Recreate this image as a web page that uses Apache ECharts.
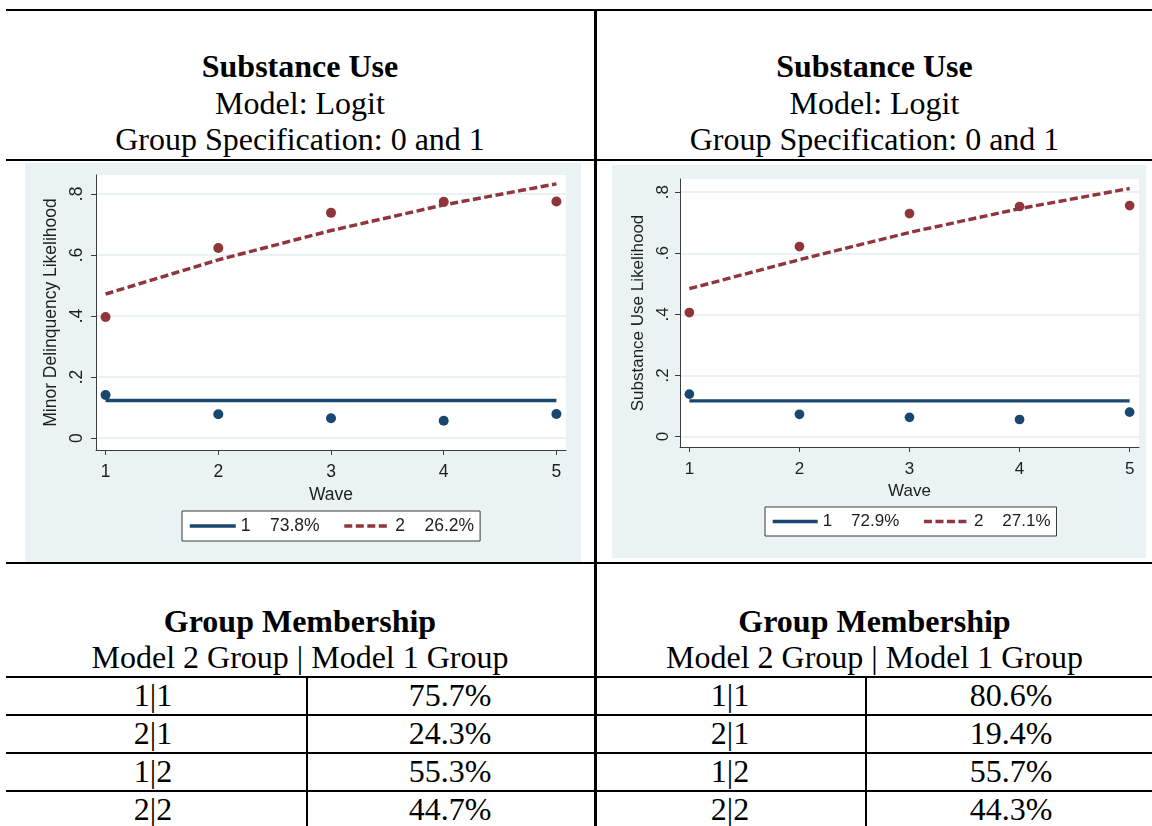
<!DOCTYPE html>
<html>
<head>
<meta charset="utf-8">
<script src="https://cdn.jsdelivr.net/npm/echarts@6/dist/echarts.min.js"></script>
<style>
    html, body { margin: 0; padding: 0; background: #fff; }
    #page { position: relative; width: 1152px; height: 826px; overflow: hidden; font-family: "Liberation Serif", "Times New Roman", serif; color: #000; }
    .hl { position: absolute; height: 2px; background: #000; }
    .vl { position: absolute; width: 2px; background: #000; }
    .txt { position: absolute; text-align: center; font-size: 32px; line-height: 36px; white-space: nowrap; }
    .b { font-weight: bold; }
    .graph { position: absolute; }
</style>
</head>
<body>
<div id="page">
    <div class="hl" style="left:6px;top:9px;width:1146px"></div>
    <div class="hl" style="left:6px;top:159px;width:1146px"></div>
    <div class="hl" style="left:6px;top:562px;width:1146px"></div>
    <div class="vl" style="left:594px;top:9px;width:3px;height:817px"></div>

    <div class="txt b" style="left:6px;top:48px;width:588px">Substance Use</div>
    <div class="txt" style="left:6px;top:85px;width:588px">Model: Logit</div>
    <div class="txt" style="left:6px;top:121px;width:588px">Group Specification: 0 and 1</div>
    <div class="txt b" style="left:597px;top:48px;width:555px">Substance Use</div>
    <div class="txt" style="left:597px;top:85px;width:555px">Model: Logit</div>
    <div class="txt" style="left:597px;top:121px;width:555px">Group Specification: 0 and 1</div>

    <div id="graphL" class="graph" style="left:25px;top:163px;width:556px;height:399px"></div>
    <div id="graphR" class="graph" style="left:612px;top:165px;width:534px;height:393px"></div>

    <div class="txt b" style="left:6px;top:603px;width:588px">Group Membership</div>
    <div class="txt" style="left:6px;top:639px;width:588px">Model 2 Group | Model 1 Group</div>
    <div class="txt b" style="left:597px;top:603px;width:555px">Group Membership</div>
    <div class="txt" style="left:597px;top:639px;width:555px">Model 2 Group | Model 1 Group</div>

    <div class="vl" style="left:306px;top:676px;height:150px"></div>
    <div class="vl" style="left:865px;top:676px;height:150px"></div>
    <div id="rows"></div>
</div>

<script>
var waves = [1, 2, 3, 4, 5];
var yTicks = [0, 0.2, 0.4, 0.6, 0.8];
var groupNames = ['1', '2'];

// left graph
var leftYTitle = 'Minor Delinquency Likelihood';
var leftObs1 = [0.141, 0.078, 0.065, 0.057, 0.079];
var leftObs2 = [0.397, 0.623, 0.738, 0.774, 0.775];
var leftFit1 = [0.123, 0.123, 0.123, 0.123, 0.123];
var leftFit2 = [0.472, 0.584, 0.680, 0.764, 0.833];
var leftShares = ['73.8%', '26.2%'];

// right graph
var rightYTitle = 'Substance Use Likelihood';
var rightObs1 = [0.139, 0.073, 0.063, 0.056, 0.080];
var rightObs2 = [0.406, 0.622, 0.730, 0.753, 0.756];
var rightFit1 = [0.117, 0.117, 0.117, 0.117, 0.117];
var rightFit2 = [0.484, 0.579, 0.668, 0.746, 0.812];
var rightShares = ['72.9%', '27.1%'];

// group membership tables
var pairLabels = ['1|1', '2|1', '1|2', '2|2'];
var leftMembership = ['75.7%', '24.3%', '55.3%', '44.7%'];
var rightMembership = ['80.6%', '19.4%', '55.7%', '44.3%'];

var navy = '#1a476f';
var maroon = '#90353b';

function zip(vals) {
    return waves.map(function(w, i) {
        return [w, vals[i]];
    });
}

function drawGraph(id, d, lay) {
    var chart = echarts.init(document.getElementById(id));
    var txt = { fontFamily: 'Liberation Sans', fontSize: lay.font, color: '#1e1e1e' };
    var axisColor = '#3c3c3c';
    var names = groupNames.map(function(g, i) {
        return g + '    ' + d.shares[i];
    });

    var option = {
        animation: false,
        backgroundColor: '#eaf2f3',
        textStyle: { fontFamily: 'Liberation Sans' },
        grid: {
            left: lay.grid[0], top: lay.grid[1], width: lay.grid[2], height: lay.grid[3],
            show: true, backgroundColor: '#fff', borderWidth: 0
        },
        xAxis: {
            type: 'value', min: 0.915, max: 5.085,
            name: 'Wave', nameLocation: 'middle', nameGap: lay.xNameGap, nameTextStyle: txt,
            axisLine: { show: true, onZero: false, lineStyle: { color: axisColor, width: 1 } },
            axisTick: { show: true, length: 5, customValues: waves, lineStyle: { color: axisColor } },
            axisLabel: Object.assign({ customValues: waves, margin: lay.xLabelMargin }, txt),
            splitLine: { show: false }
        },
        yAxis: {
            type: 'value', min: lay.yMin, max: lay.yMax,
            name: d.yTitle, nameLocation: 'middle', nameGap: lay.yNameGap, nameTextStyle: txt,
            axisLine: { show: true, onZero: false, lineStyle: { color: axisColor, width: 1 } },
            axisTick: { show: true, length: 5, customValues: yTicks, lineStyle: { color: axisColor } },
            axisLabel: Object.assign({
                customValues: yTicks, rotate: 90, margin: lay.yLabelMargin,
                formatter: function(v) {
                    return v === 0 ? '0' : ('' + v).replace(/^0\./, '.');
                }
            }, txt),
            splitLine: { show: true, lineStyle: { color: '#e3ecef', width: 1.5 } }
        },
        legend: {
            data: [
                { name: names[0], lineStyle: { type: 'solid', width: lay.lw } },
                { name: names[1], lineStyle: { type: [8, 3.5], width: lay.lw } }
            ],
            left: lay.legend[0], top: lay.legend[1],
            padding: [6, 6, 6, 6], itemGap: 23, itemWidth: lay.iw, itemHeight: 20,
            borderColor: '#3a3a3a', borderWidth: 1, backgroundColor: '#fff',
            itemStyle: { opacity: 0 },
            textStyle: txt,
            selectedMode: false
        },
        series: [{
            type: 'scatter', data: zip(d.obs1), symbolSize: lay.dot,
            itemStyle: { color: navy, opacity: 1 }
        }, {
            type: 'scatter', data: zip(d.obs2), symbolSize: lay.dot,
            itemStyle: { color: maroon, opacity: 1 }
        }, {
            type: 'line', name: names[0], data: zip(d.fit1), symbol: 'none',
            itemStyle: { color: navy }, lineStyle: { color: navy, width: lay.lw }
        }, {
            type: 'line', name: names[1], data: zip(d.fit2), symbol: 'none',
            itemStyle: { color: maroon }, lineStyle: { color: maroon, width: lay.lw, type: [8, 3.5] }
        }]
    };
    chart.setOption(option);
}

drawGraph('graphL', {
    yTitle: leftYTitle, obs1: leftObs1, obs2: leftObs2, fit1: leftFit1, fit2: leftFit2, shares: leftShares
}, {
    grid: [71, 12, 470, 275], yMin: -0.039, yMax: 0.862, font: 17.5,
    xNameGap: 34, xLabelMargin: 13, yNameGap: 36, yLabelMargin: 10,
    legend: [157, 348], lw: 3.5, iw: 46, dot: 10
});

drawGraph('graphR', {
    yTitle: rightYTitle, obs1: rightObs1, obs2: rightObs2, fit1: rightFit1, fit2: rightFit2, shares: rightShares
}, {
    grid: [68, 14, 459, 268], yMin: -0.034, yMax: 0.843, font: 17,
    xNameGap: 35, xLabelMargin: 14, yNameGap: 33, yLabelMargin: 8,
    legend: [153, 342], lw: 3.4, iw: 45, dot: 9.7
});

// membership rows
var html = '';
pairLabels.forEach(function(p, i) {
    var lineTop = 676 + 38 * i;
    var textTop = 677 + 38 * i;
    html += '<div class="hl" style="left:6px;top:' + lineTop + 'px;width:588px"></div>';
    html += '<div class="hl" style="left:597px;top:' + lineTop + 'px;width:555px"></div>';
    html += '<div class="txt" style="left:6px;top:' + textTop + 'px;width:294px">' + p + '</div>';
    html += '<div class="txt" style="left:306px;top:' + textTop + 'px;width:288px">' + leftMembership[i] + '</div>';
    html += '<div class="txt" style="left:597px;top:' + textTop + 'px;width:266px">' + p + '</div>';
    html += '<div class="txt" style="left:867px;top:' + textTop + 'px;width:288px">' + rightMembership[i] + '</div>';
});
document.getElementById('rows').innerHTML = html;
</script>
</body>
</html>
